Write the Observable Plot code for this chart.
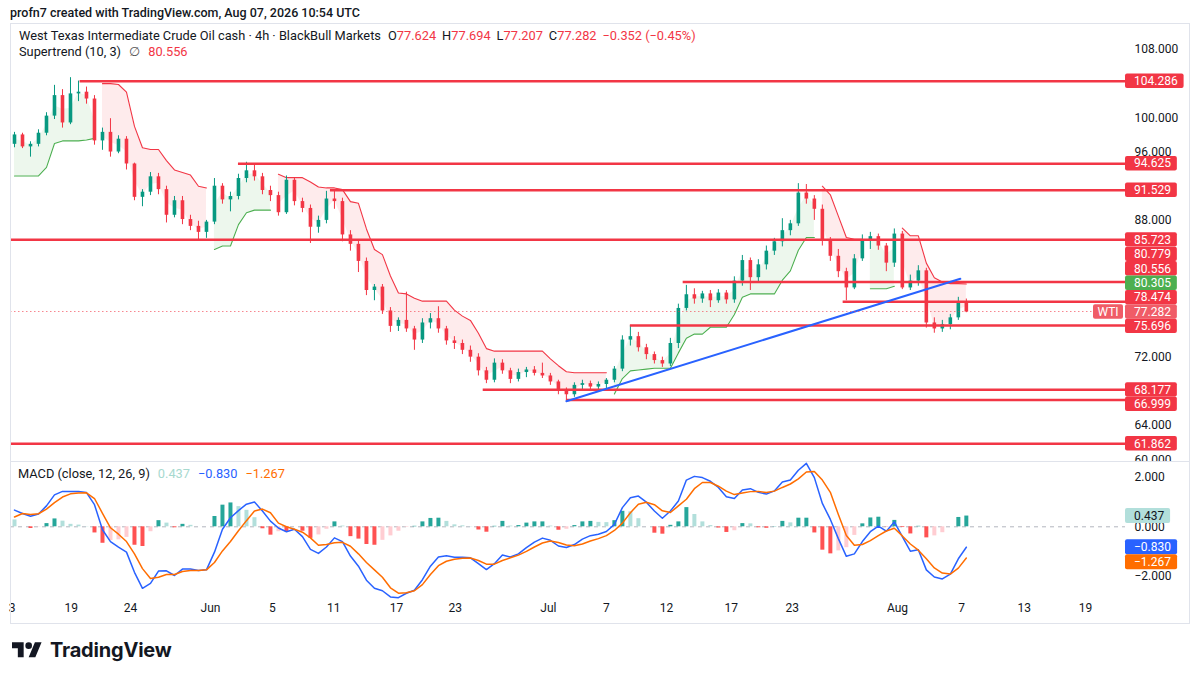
<!DOCTYPE html>
<html><head><meta charset="utf-8">
<script src="https://cdn.jsdelivr.net/npm/d3@7"></script>
<script src="https://cdn.jsdelivr.net/npm/@observablehq/plot@0.6"></script>
<style>
html,body{margin:0;padding:0;background:#fff}
#root{position:relative;width:1200px;height:675px;overflow:hidden;font-family:"Trebuchet MS",Roboto,"DejaVu Sans",sans-serif;color:#131722}
.abs{position:absolute}
.ln{position:absolute;background:#e0e3eb}
.r{color:#f23645}
.txt{white-space:nowrap;line-height:16px}
</style></head>
<body>
<div id="root">
  <div id="main" class="abs" style="left:0;top:28px"></div>
  <div id="macd" class="abs" style="left:0;top:462px"></div>

  <div class="ln" style="left:10px;top:23px;width:1180px;height:1px"></div>
  <div class="ln" style="left:10px;top:23px;width:1px;height:600px"></div>
  <div class="ln" style="left:1189px;top:23px;width:1px;height:600px"></div>
  <div class="ln" style="left:10px;top:461px;width:1180px;height:1px"></div>
  <div class="ln" style="left:10px;top:623px;width:1180px;height:1px"></div>

  <div class="abs txt" style="left:10px;top:5px;font-size:12.5px;font-weight:500">profn7 created with TradingView.com, Aug 07, 2026 10:54 UTC</div>
  <div class="abs txt" style="left:19px;top:28px;font-size:12.8px">West Texas Intermediate Crude Oil cash · 4h · BlackBull Markets<span style="margin-left:7px">O<span class="r">77.624</span></span><span style="margin-left:6px">H<span class="r">77.694</span></span><span style="margin-left:6px">L<span class="r">77.207</span></span><span style="margin-left:6px">C<span class="r">77.282</span></span><span class="r" style="margin-left:6px">−0.352 (−0.45%)</span></div>
  <div class="abs txt" style="left:19px;top:44px;font-size:12.8px">Supertrend (10, 3)<span style="margin-left:8px;color:#555">∅</span><span class="r" style="margin-left:8px">80.556</span></div>
  <div class="abs txt" style="left:18px;top:466px;font-size:12.8px">MACD (close, 12, 26, 9)<span style="margin-left:8px;color:#a7d9cf">0.437</span><span style="margin-left:8px;color:#2962ff">−0.830</span><span style="margin-left:8px;color:#ff6d00">−1.267</span></div>

  <svg class="abs" style="left:12px;top:638.7px" width="30" height="23.33" viewBox="0 0 36 28"><path d="M14 22H7V11H0V4h14v18zM28 22h-8l7.5-18h8L28 22z" fill="#131722"/><circle cx="20" cy="8" r="4" fill="#131722"/></svg>
  <div class="abs" style="left:50px;top:637px;font-family:Inter,Roboto,sans-serif;font-weight:700;font-size:20px;line-height:26px;letter-spacing:-0.2px;color:#131722">TradingView</div>
</div>
<script>
// ---------- data ----------
const openP = [96.9,98.0,96.6,96.9,98.2,100.2,102.6,99.4,102.8,103.0, 102.2,97.3,98.3,96.0,97.5,94.6,90.7,91.3,93.1,91.6,
  88.6,90.3,88.1,87.3,86.6,87.8,92.0,90.4,90.8,92.9, 93.8,93.1,91.5,90.9,88.9,92.7,90.2,89.4,87.2,88.0,
  90.5,90.2,86.3,85.2,83.2,79.8,80.2,77.4,75.6,76.3, 75.3,74.0,76.0,76.5,75.3,73.9,73.6,72.8,72.0,70.4,
  69.3,71.3,70.4,69.4,70.2,70.5,70.1,69.8,69.1,68.0, 67.6,68.7,68.9,68.5,68.8,69.3,70.6,74.0,74.4,73.1,
  72.3,71.6,71.2,73.6,77.7,79.3,78.8,79.4,78.6,79.5, 78.7,80.9,83.3,81.3,82.8,84.4,85.5,86.8,87.6,91.2,
  90.5,89.3,85.7,83.8,82.0,80.1,83.5,85.6,86.1,85.0, 83.0,86.4,80.1,80.9,82.1,76.0,75.3,75.8,76.6,78.5];
const highP = [98.3,98.2,97.2,98.6,100.6,103.8,103.3,104.7,104.3,103.6, 102.6,98.8,99.9,97.9,97.8,94.7,91.6,93.6,93.5,92.0,
  90.8,90.8,88.6,87.9,88.0,92.9,92.3,91.3,93.4,94.8, 94.6,93.5,92.0,91.3,93.2,93.0,90.6,89.8,88.5,91.4,
  91.5,90.6,86.8,85.7,83.6,80.5,80.5,77.8,76.6,79.6, 75.6,76.5,77.1,77.9,75.6,74.4,74.0,73.3,72.4,70.8,
  71.8,71.7,70.7,70.6,70.8,70.9,71.3,70.1,69.3,68.4, 69.0,69.3,69.2,69.1,69.5,70.9,74.5,75.7,74.9,73.5,
  72.6,72.0,74.2,78.2,80.4,80.0,79.7,79.8,79.9,79.8, 81.4,83.9,83.6,83.4,85.0,85.9,88.2,88.0,92.3,92.2,
  90.9,89.8,86.0,84.6,82.4,84.0,86.3,86.6,86.4,85.3, 87.0,86.7,81.6,82.7,82.4,76.6,76.3,77.0,79.0,78.8];
const lowP = [96.5,96.4,95.4,96.6,97.9,99.8,98.8,99.2,101.9,101.6, 96.8,96.2,95.4,95.8,93.9,90.3,89.6,90.9,91.0,87.7,
  88.3,87.5,86.8,85.7,85.9,87.5,89.9,89.0,90.4,92.4, 92.6,91.0,90.2,88.5,88.7,89.7,88.9,85.3,86.5,87.6,
  89.3,85.5,84.4,81.9,79.2,78.6,77.0,74.9,75.0,74.9, 72.8,73.6,75.3,74.8,73.4,72.9,72.3,71.4,69.8,68.9,
  69.0,70.0,68.9,69.1,69.6,69.8,69.5,68.7,67.6,67.0, 67.3,68.2,68.1,68.0,68.3,69.0,70.3,73.3,72.6,71.7,
  71.2,70.8,70.9,73.0,77.4,78.2,78.3,77.8,78.3,78.2, 78.3,80.3,79.8,80.8,82.2,83.9,84.9,86.2,87.3,89.9,
  88.0,85.0,83.2,81.3,78.6,79.9,83.2,84.6,84.5,82.0, 82.5,79.9,79.8,80.3,75.4,74.8,74.9,75.2,76.3,77.2];
const closeP = [98.0,96.6,96.9,98.2,100.2,102.6,99.4,102.8,103.0,102.2, 97.3,98.3,96.0,97.5,94.6,90.7,91.3,93.1,91.6,88.6,
  90.3,88.1,87.3,86.6,87.8,92.0,90.4,90.8,92.9,93.8, 93.1,91.5,90.9,88.9,92.7,90.2,89.4,87.2,88.0,90.5,
  90.2,86.3,85.2,83.2,79.8,80.2,77.4,75.6,76.3,75.3, 74.0,76.0,76.5,75.3,73.9,73.6,72.8,72.0,70.4,69.3,
  71.3,70.4,69.4,70.2,70.5,70.1,69.8,69.1,68.0,67.6, 68.7,68.9,68.5,68.8,69.3,70.6,74.0,74.4,73.1,72.3,
  71.6,71.2,73.6,77.7,79.3,78.8,79.4,78.6,79.5,78.7, 80.9,83.3,81.3,82.8,84.4,85.5,86.8,87.6,91.2,90.5,
  89.3,85.7,83.8,82.0,80.1,83.5,85.6,86.1,85.0,83.0, 86.4,80.1,80.9,82.1,76.0,75.3,75.8,76.6,78.5,77.282];

const supertrend = [93.2,93.2,93.2,93.2,94.2,97.0,97.3,97.3,97.3,97.4, 97.6,104.0,104.0,103.9,103.0,99.0,96.5,96.3,96.3,95.0,
  93.9,93.6,93.3,92.0,91.8,84.6,85.0,85.0,87.5,88.9, 89.2,89.2,89.2,93.4,93.0,93.0,93.0,92.5,91.9,91.8,
  91.8,91.6,90.2,90.0,87.0,84.6,84.0,81.5,79.5,79.4, 78.9,78.55,78.55,78.55,78.55,77.5,76.8,76.3,74.8,73.0,
  72.7,72.7,72.7,72.7,72.7,72.7,72.7,71.8,71.0,70.3, 70.17,70.17,70.17,70.17,70.17,67.7,69.5,70.4,70.5,70.6,
  70.7,70.7,70.7,72.5,74.2,74.7,74.7,75.5,75.5,75.5, 77.0,79.0,79.4,79.4,79.4,79.4,81.0,82.1,84.5,86.0,
  86.0,92.0,91.0,88.5,86.0,85.8,85.8,80.0,80.0,80.0, 80.3,87.1,86.2,86.2,83.0,81.3,80.8,80.6,80.6,80.556];
// u = up trend (green, below price), d = down trend (red, above price)
const trendDir = "uuuuuuuuuuu" + "dddddddddddddd" + "uuuuuuuu" +
  "dddddddddddddddddddddddddddddddddddddddddd" + "uuuuuuuuuuuuuuuuuuuuuuuuuu" + "dddddd" + "uuuu" + "ddddddddd";

const macdLine = [0.68,0.54,0.43,0.52,0.85,1.30,1.44,1.44,1.44,1.39, 0.90,-0.12,-0.60,-0.83,-1.03,-1.85,-2.50,-2.30,-1.80,-1.79,
  -1.98,-1.72,-1.72,-1.78,-1.75,-1.03,-0.10,0.37,0.66,0.92, 1.01,0.64,0.23,-0.05,-0.20,-0.10,-0.40,-0.92,-1.08,-0.82,
  -0.45,-0.60,-1.19,-1.60,-2.17,-2.50,-2.60,-2.85,-2.88,-2.70, -2.58,-2.15,-1.60,-1.23,-1.18,-1.24,-1.24,-1.26,-1.50,-1.74,
  -1.50,-1.15,-1.23,-1.10,-0.85,-0.62,-0.46,-0.55,-0.78,-0.84, -0.72,-0.50,-0.36,-0.30,-0.19,0.10,0.78,1.18,1.25,1.00,
  0.64,0.35,0.64,1.05,1.90,2.05,2.00,1.85,1.60,1.22, 1.15,1.50,1.55,1.40,1.33,1.46,1.82,1.90,2.30,2.58,
  2.00,0.95,0.30,-0.48,-1.20,-1.10,-0.60,-0.20,0.03,-0.18, 0.20,-0.40,-0.99,-0.93,-1.75,-2.04,-2.12,-1.92,-1.30,-0.830];
const signalLine = [0.40,0.54,0.50,0.53,0.72,0.98,1.21,1.34,1.37,1.38, 1.15,0.55,-0.04,-0.30,-0.60,-1.10,-1.70,-2.10,-2.05,-1.94,
  -1.94,-1.82,-1.78,-1.78,-1.75,-1.45,-0.98,-0.60,-0.16,0.25, 0.64,0.72,0.57,0.15,0.00,-0.10,-0.22,-0.45,-0.75,-0.72,
  -0.65,-0.63,-0.79,-1.10,-1.45,-1.75,-2.05,-2.48,-2.70,-2.68, -2.60,-2.35,-1.94,-1.58,-1.40,-1.32,-1.28,-1.27,-1.37,-1.52,
  -1.52,-1.37,-1.26,-1.15,-1.00,-0.82,-0.66,-0.58,-0.64,-0.74, -0.77,-0.70,-0.58,-0.48,-0.36,-0.15,0.15,0.57,0.92,1.00,
  0.90,0.65,0.58,0.85,1.12,1.55,1.80,1.80,1.65,1.45, 1.31,1.37,1.43,1.44,1.39,1.45,1.60,1.74,1.95,2.23,
  2.25,1.90,1.40,0.50,-0.35,-0.75,-0.72,-0.56,-0.36,-0.17, -0.06,-0.37,-0.70,-0.95,-1.30,-1.67,-1.88,-1.92,-1.68,-1.267];

const levelPrices = [104.286,94.625,91.529,85.723,80.779,78.474,75.696,68.177,66.999,61.862];
const levelStartBars = [8.2,28,39.5,-0.5,83.6,103.6,77,58.6,69,-0.5];
const trendBars = [69,118.25];
const trendPrices = [66.85,81.17];
const lastPrice = 77.282;
const supertrendLast = 80.556;
const upTrendLabel = 80.305;
const priceTicks = [108,100,96,88,72,64,60];
const macdTicks = [2,0,-2];
const dateTickBars = [-0.3,7.1,14.5,24.5,32.25,39.9,47.75,55.1,66.75,74,81.5,89.6,97.25,110.4,118.4,126.25,133.9];
const dateTickLabels = ["3","19","24","Jun","5","11","17","23","Jul","7","12","17","23","Aug","7","13","19"];
const xDomain = [-0.5,138.9];

// ---------- build tables ----------
const UP = "#089981", DOWN = "#f23645";
let seg = 0;
const bars = openP.map((o,i) => {
  if (i > 0 && trendDir[i] !== trendDir[i-1]) seg++;
  const c = closeP[i];
  return {i, o, h: highP[i], l: lowP[i], c, up: c >= o, mid: (o + c) / 2,
          st: supertrend[i], dir: trendDir[i], seg};
});
const levels = levelPrices.map((p,k) => ({p, start: levelStartBars[k]}));
const trend = trendBars.map((b,k) => ({bar: b, p: trendPrices[k]}));
const macdRows = macdLine.map((m,i) => ({i, m, s: signalLine[i], h: m - signalLine[i]}));
macdRows.forEach((d,i) => {
  const prev = i > 0 ? macdRows[i-1].h : d.h;
  d.col = d.h >= 0 ? (d.h > prev ? "#26a69a" : "#b2dfdb") : (d.h > prev ? "#ffcdd2" : "#ff5252");
});
const dateTicks = dateTickBars.map((b,k) => ({bar: b, label: dateTickLabels[k]}));
const fmt = v => (v < 0 ? "−" : "") + Math.abs(v).toFixed(3);

// price-scale label boxes, drawn through Plot's y scale
function axisBoxes(items, boxH) {
  return (index, scales, values, dims) => {
    const g = d3.create("svg:g").attr("text-anchor", "start");
    const x0 = dims.width - dims.marginRight;
    const arr = items.map(d => ({...d, ny: scales.y(d.v)})).sort((a,b) => a.ny - b.ny);
    const k = Math.max(0, arr.findIndex(d => d.anchor));
    arr.forEach(d => d.py = d.ny);
    for (let j = k - 1; j >= 0; j--) arr[j].py = Math.min(arr[j].ny, arr[j+1].py - boxH);
    for (let j = k + 1; j < arr.length; j++) arr[j].py = Math.max(arr[j].ny, arr[j-1].py + boxH);
    for (const d of arr) {
      if (d.dotted) {
        g.append("line").attr("x1", dims.marginLeft).attr("x2", x0 - 32).attr("y1", d.ny).attr("y2", d.ny)
          .attr("stroke", "#f23645").attr("stroke-opacity", 0.6).attr("stroke-dasharray", "1.5,2.5");
      }
      if (d.tag) {
        g.append("rect").attr("x", x0 - 32).attr("y", d.py - boxH/2).attr("width", 30).attr("height", boxH)
          .attr("fill", d.bg).attr("rx", 2);
        g.append("text").attr("x", x0 - 17).attr("y", d.py).attr("dy", "0.35em").attr("text-anchor", "middle")
          .attr("fill", "#fff").attr("font-size", 12).text(d.tag);
      }
      let tw = 0;
      for (const ch of d.t) tw += ch === "." ? 3.1 : ch === "−" ? 7 : 6.75;
      g.append("rect").attr("x", x0).attr("y", d.py - boxH/2).attr("width", tw + 15).attr("height", boxH)
        .attr("fill", d.bg).attr("rx", 2);
      g.append("text").attr("x", x0 + 9).attr("y", d.py).attr("dy", "0.35em").attr("text-anchor", "start")
        .attr("fill", d.fg).attr("font-size", 12).text(d.t);
    }
    return g.node();
  };
}

const FONT = '"Trebuchet MS", Roboto, "DejaVu Sans", sans-serif';
const mainBoxes = [
  ...levelPrices.map(p => ({v: p, t: p.toFixed(3), bg: "#f23645", fg: "#fff"})),
  {v: supertrendLast, t: supertrendLast.toFixed(3), bg: "#f23645", fg: "#fff"},
  {v: upTrendLabel, t: upTrendLabel.toFixed(3), bg: "#4caf50", fg: "#fff"},
  {v: lastPrice, t: lastPrice.toFixed(3), bg: "#f05c67", fg: "#fff", anchor: true, tag: "WTI", dotted: true}
];

const main = Plot.plot({
  width: 1200, height: 433,
  marginLeft: 10, marginRight: 75, marginTop: 0, marginBottom: 0,
  x: {domain: xDomain, axis: null},
  y: {domain: [59.792, 110.452], axis: null},
  style: {fontFamily: FONT, fontSize: "12px", color: "#131722", background: "#fff"},
  marks: [
    Plot.areaY(bars, {x: "i", y1: "st", y2: "mid", z: "seg",
      fill: d => d.dir === "u" ? "#4caf50" : "#f23645", fillOpacity: 0.1}),
    Plot.line(bars, {x: "i", y: "st", z: "seg",
      stroke: d => d.dir === "u" ? "#4caf50" : "#f23645", strokeWidth: 1.1}),
    Plot.ruleX(bars, {x: "i", y1: "l", y2: "h", stroke: d => d.up ? UP : DOWN, strokeWidth: 1}),
    Plot.ruleX(bars, {x: "i", y1: "o", y2: d => Math.abs(d.c - d.o) < 0.06 ? d.o + 0.06 : d.c,
      stroke: d => d.up ? UP : DOWN, strokeWidth: 3.6}),
    Plot.ruleY(levels, {y: "p", x1: "start", x2: () => xDomain[1], stroke: "#f23645", strokeWidth: 2.5}),
    Plot.line(trend, {x: "bar", y: "p", stroke: "#2962ff", strokeWidth: 2}),
    Plot.text(priceTicks, {y: d => d, text: d => d.toFixed(3), frameAnchor: "right", textAnchor: "start",
      dx: 9, fill: "#131722", fontSize: 12}),
    axisBoxes(mainBoxes, 14.4)
  ]
});
document.getElementById("main").appendChild(main);

const lastM = macdRows[macdRows.length - 1];
const macdBoxes = [
  {v: lastM.h, t: fmt(lastM.h), bg: "#b2dfdb", fg: "#131722"},
  {v: lastM.m, t: fmt(lastM.m), bg: "#2962ff", fg: "#fff", anchor: true},
  {v: lastM.s, t: fmt(lastM.s), bg: "#ff6d00", fg: "#fff"}
];

const macd = Plot.plot({
  width: 1200, height: 162,
  marginLeft: 10, marginRight: 75, marginTop: 0, marginBottom: 24,
  x: {domain: xDomain, axis: null},
  y: {domain: [-2.996, 2.614], axis: null},
  style: {fontFamily: FONT, fontSize: "12px", color: "#131722", background: "#fff"},
  marks: [
    Plot.ruleY([0], {stroke: "#b2b5be", strokeDasharray: "4,4", strokeWidth: 1}),
    Plot.ruleX(macdRows, {x: "i", y1: 0, y2: "h", stroke: "col", strokeWidth: 4}),
    Plot.line(macdRows, {x: "i", y: "m", stroke: "#2962ff", strokeWidth: 1.5}),
    Plot.line(macdRows, {x: "i", y: "s", stroke: "#ff6d00", strokeWidth: 1.5}),
    Plot.text(macdTicks, {y: d => d, text: fmt, frameAnchor: "right", textAnchor: "start",
      dx: 9, fill: "#131722", fontSize: 12}),
    axisBoxes(macdBoxes, 15),
    Plot.text(dateTicks, {x: "bar", text: "label", frameAnchor: "bottom", dy: 11,
      fill: "#131722", fontSize: 12})
  ]
});
document.getElementById("macd").appendChild(macd);
</script>
</body></html>
